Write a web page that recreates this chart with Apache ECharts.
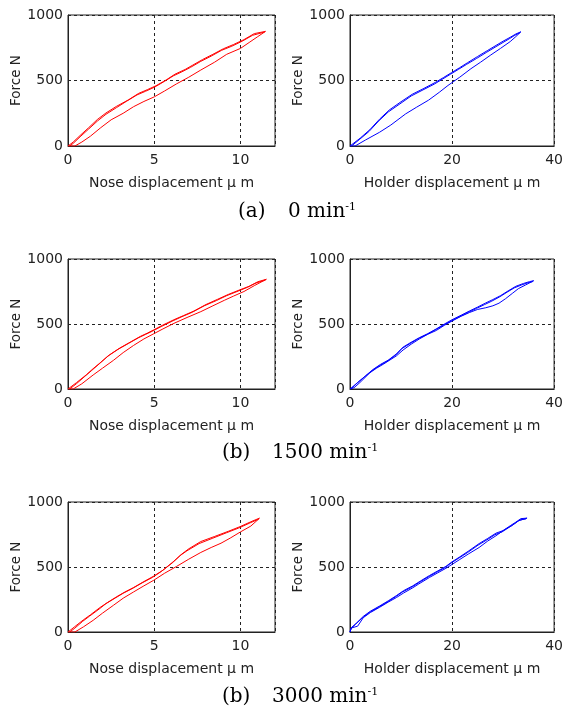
<!DOCTYPE html>
<html>
<head>
<meta charset="utf-8">
<script src="https://cdn.jsdelivr.net/npm/echarts@6/dist/echarts.min.js"></script>
<style>
  html, body { margin: 0; padding: 0; background: #fff; }
  #chart { width: 566px; height: 709px; }
</style>
</head>
<body>
<div id="chart"></div>
<script>
// force - displacement loops, [displacement um, force N]
var noseLoad0 = [[0,0],[0.4,0],[0.8,30],[1.3,75],[1.9,140],[2.5,200],[3.2,250],[3.8,300],[4.4,340],[5.0,375],[5.6,420],[6.3,475],[7.0,525],[7.7,580],[8.5,640],[9.2,700],[10.0,745],[10.5,790],[11.0,835],[11.45,875]];
var noseUnloadA0 = [[11.45,875],[10.8,858],[10.2,812],[9.6,775],[9.0,742],[8.4,700],[7.8,660],[7.2,615],[6.8,585],[6.2,548],[5.7,505],[5.1,460],[4.6,430],[4.1,402],[3.5,352],[2.8,302],[2.2,252],[1.7,202],[1.2,140],[0.7,80],[0.3,30],[0,0]];
var noseUnloadB0 = [[11.4,870],[10.7,845],[10.1,800],[9.5,762],[8.9,730],[8.3,686],[7.7,646],[7.1,600],[6.6,566],[6.1,535],[5.6,494],[5.0,448],[4.5,418],[4.0,390],[3.4,342],[2.8,292],[2.2,242],[1.7,190],[1.2,130],[0.7,70],[0.3,20],[0.1,0]];

var holderLoad0 = [[0,0],[1,0],[3,45],[5.8,105],[8,160],[10.9,245],[13,295],[15.4,350],[17.5,410],[19.2,462],[21.5,525],[23.7,590],[25.6,640],[27.6,695],[29.5,745],[31.4,797],[32.5,835],[33.5,872]];
var holderUnloadA0 = [[33.5,872],[32.5,855],[31.4,830],[30,800],[28.8,772],[27,730],[25,683],[23,635],[21.5,598],[19.9,560],[18.3,522],[16.7,485],[14.5,440],[12.2,395],[10,338],[7.7,275],[5.8,205],[3.9,125],[2,60],[0,0]];
var holderUnloadB0 = [[33.3,865],[32.3,845],[31.2,818],[29.8,786],[28.6,758],[26.8,716],[24.8,668],[22.8,622],[21.3,586],[19.7,548],[18.1,510],[16.5,472],[14.3,428],[12,382],[9.8,322],[7.5,260],[5.6,190],[3.7,110],[1.8,48],[0.3,0]];

var noseLoad1500 = [[0,0],[0.3,0],[0.8,40],[1.46,108],[2.0,160],[2.63,220],[3.2,280],[3.8,335],[4.4,385],[4.97,425],[5.5,462],[6.14,505],[6.9,550],[7.7,595],[8.4,640],[9.06,682],[9.6,715],[10.2,750],[10.8,795],[11.5,844]];
var noseUnloadA1500 = [[11.5,844],[11,825],[10.5,790],[10,765],[9.3,728],[8.67,690],[8,650],[7.3,600],[6.7,565],[6.14,533],[5.5,492],[4.97,455],[4.6,430],[4.2,405],[3.6,360],[3.0,315],[2.4,262],[1.85,200],[1.4,150],[1.07,110],[0.5,50],[0,0]];
var noseUnloadB1500 = [[11.45,838],[10.9,815],[10.4,782],[9.9,755],[9.2,718],[8.6,680],[7.9,640],[7.2,590],[6.6,556],[6.05,522],[5.4,480],[4.9,445],[4.5,420],[4.1,395],[3.5,350],[2.9,305],[2.3,252],[1.8,192],[1.35,140],[1.0,100],[0.5,42],[0.1,0]];

var holderLoad1500 = [[0,0],[0.8,10],[1.95,50],[3.9,125],[5.2,160],[6.5,190],[9.1,255],[10.4,300],[12,345],[13.6,385],[15.2,420],[16.9,450],[18.5,490],[20.1,525],[21.8,560],[23.4,588],[25,612],[26.6,625],[28,640],[29.2,660],[30.5,695],[31.8,735],[33,772],[34.4,800],[36,833]];
var holderUnloadA1500 = [[36,833],[35.2,826],[34,812],[32.5,790],[31,755],[29.5,718],[28,688],[26.6,662],[25,630],[23.4,600],[21.8,568],[20.1,535],[18.5,500],[16.9,462],[15.2,425],[13.6,395],[12,360],[10.4,322],[9.1,270],[7.5,222],[6,190],[4.5,150],[3,100],[1.5,50],[0,0]];
var holderUnloadB1500 = [[35.8,826],[34.8,816],[33.6,800],[32.2,778],[30.8,745],[29.3,708],[27.8,676],[26.4,650],[24.8,620],[23.2,590],[21.6,558],[19.9,525],[18.3,490],[16.7,455],[15,418],[13.4,388],[11.8,350],[10.2,312],[9,262],[7.3,214],[5.8,180],[4.3,140],[2.8,92],[1.3,42],[0.2,0]];

var noseLoad3000 = [[0,0],[0.4,0],[0.9,40],[1.46,90],[2.0,145],[2.63,205],[3.2,260],[3.8,308],[4.4,355],[4.97,398],[5.6,452],[6.3,505],[7.0,560],[7.7,612],[8.3,650],[8.87,683],[9.4,722],[10,770],[10.6,815],[11.1,875]];
var noseUnloadA3000 = [[11.1,876],[10.6,848],[10,812],[9.3,775],[8.48,734],[7.7,696],[7.0,640],[6.6,600],[6.14,545],[5.5,475],[4.97,430],[4.4,388],[3.8,342],[3.3,308],[2.83,272],[2.3,228],[1.85,188],[1.3,132],[0.88,92],[0.4,42],[0,0]];
var noseUnloadB3000 = [[11.05,868],[10.5,836],[9.9,800],[9.2,764],[8.4,722],[7.6,680],[6.9,625],[6.5,588],[6.05,532],[5.4,465],[4.9,420],[4.3,378],[3.7,332],[3.2,298],[2.75,262],[2.2,218],[1.8,176],[1.25,122],[0.85,82],[0.4,30],[0.1,0]];

var holderLoad3000 = [[0,0],[0.2,30],[0.5,40],[1.5,45],[2.6,110],[4,150],[5.8,190],[7.5,230],[9.1,265],[10.5,300],[12.3,340],[13.5,370],[15.6,420],[17.2,455],[18.8,490],[20.2,525],[21.4,555],[23.2,600],[25.3,650],[27,700],[28.6,740],[30.2,785],[31.8,820],[33,855],[34.7,876]];
var holderUnloadA3000 = [[34.7,876],[33.5,872],[32.5,845],[31.5,820],[30,780],[28.6,760],[27,720],[25.3,680],[23.2,622],[21.4,575],[20,540],[18.8,505],[17.2,470],[15.6,435],[13.8,392],[12.3,355],[10.5,318],[9.1,280],[7.5,240],[5.8,200],[4,160],[2.6,120],[1.3,70],[0.3,35],[0,0]];
var holderUnloadB3000 = [[34.5,870],[33.3,862],[32.3,835],[31.3,808],[29.8,770],[28.4,748],[26.8,708],[25.1,668],[23,610],[21.2,565],[19.8,530],[18.6,495],[17,460],[15.4,425],[13.6,382],[12.1,345],[10.3,308],[8.9,270],[7.3,230],[5.6,190],[3.8,150],[2.4,108],[1.1,60],[0.2,25],[0,0]];

var yTicks = { min: 0, max: 1000, interval: 500 };
var noseAxis = { max: 12, interval: 5, name: 'Nose displacement μ m' };
var holderAxis = { max: 40, interval: 20, name: 'Holder displacement μ m' };

var captionTags = ['(a)', '(b)', '(b)'];
var captionSpeeds = ['0', '1500', '3000'];

var panels = [
  { axis: noseAxis, color: '#ff0000', data: [noseLoad0, noseUnloadA0, noseUnloadB0] },
  { axis: holderAxis, color: '#0000ff', data: [holderLoad0, holderUnloadA0, holderUnloadB0] },
  { axis: noseAxis, color: '#ff0000', data: [noseLoad1500, noseUnloadA1500, noseUnloadB1500] },
  { axis: holderAxis, color: '#0000ff', data: [holderLoad1500, holderUnloadA1500, holderUnloadB1500] },
  { axis: noseAxis, color: '#ff0000', data: [noseLoad3000, noseUnloadA3000, noseUnloadB3000] },
  { axis: holderAxis, color: '#0000ff', data: [holderLoad3000, holderUnloadA3000, holderUnloadB3000] }
];

var rowTop = [15, 259, 502];
var rowHeight = [131, 130, 130];
var colLeft = [68, 350];
var plotWidth = 207;
var captionX = [238, 222, 222];
var captionY = [212, 453, 697];

var ink = '#222';
var grids = [], xAxes = [], yAxes = [], series = [];

panels.forEach(function (p, i) {
  var row = Math.floor(i / 2), col = i % 2;
  grids.push({
    left: colLeft[col], top: rowTop[row], width: plotWidth, height: rowHeight[row],
    show: true, borderColor: ink, borderWidth: 1, backgroundColor: 'transparent'
  });
  xAxes.push({
    type: 'value', gridIndex: i, min: 0, max: p.axis.max, interval: p.axis.interval,
    name: p.axis.name, nameLocation: 'middle', nameGap: 30,
    nameTextStyle: { fontFamily: 'DejaVu Sans', fontSize: 14, color: ink },
    axisLine: { show: true, onZero: false, lineStyle: { color: ink } },
    axisTick: { show: false },
    axisLabel: { fontFamily: 'DejaVu Sans', fontSize: 14, color: ink, margin: 7,
      showMaxLabel: p.axis.max % p.axis.interval === 0 },
    splitLine: { show: true, lineStyle: { color: ink, type: [3, 3], width: 1 } }
  });
  yAxes.push({
    type: 'value', gridIndex: i, min: yTicks.min, max: yTicks.max, interval: yTicks.interval,
    name: 'Force N', nameLocation: 'middle', nameGap: 44,
    nameTextStyle: { fontFamily: 'DejaVu Sans', fontSize: 13.5, color: ink },
    axisLine: { show: true, onZero: false, lineStyle: { color: ink } },
    axisTick: { show: false },
    axisLabel: { fontFamily: 'DejaVu Sans', fontSize: 14, color: ink, margin: 5,
      formatter: function (v) { return String(v); } },
    splitLine: { show: true, lineStyle: { color: ink, type: [3, 3], width: 1 } }
  });
  p.data.forEach(function (d) {
    series.push({
      type: 'line', xAxisIndex: i, yAxisIndex: i, data: d,
      symbol: 'none', smooth: false, silent: true,
      lineStyle: { color: p.color, width: 1 }
    });
  });
});

var graphics = captionTags.map(function (tag, r) {
  return {
    type: 'text', x: captionX[r], y: captionY[r],
    style: {
      text: '{t|' + tag + '}{v|' + captionSpeeds[r] + ' min}{s|-1}',
      verticalAlign: 'middle',
      fill: '#000',
      rich: {
        t: { fontFamily: 'DejaVu Serif', fontSize: 20, width: 50, fill: '#000' },
        v: { fontFamily: 'DejaVu Serif', fontSize: 20, fill: '#000' },
        s: { fontFamily: 'DejaVu Serif', fontSize: 11, verticalAlign: 'top', fill: '#000' }
      }
    }
  };
});

var chart = echarts.init(document.getElementById('chart'), null, { renderer: 'canvas' });
chart.setOption({
  animation: false,
  backgroundColor: '#fff',
  grid: grids,
  xAxis: xAxes,
  yAxis: yAxes,
  series: series,
  graphic: graphics
});
</script>
</body>
</html>
